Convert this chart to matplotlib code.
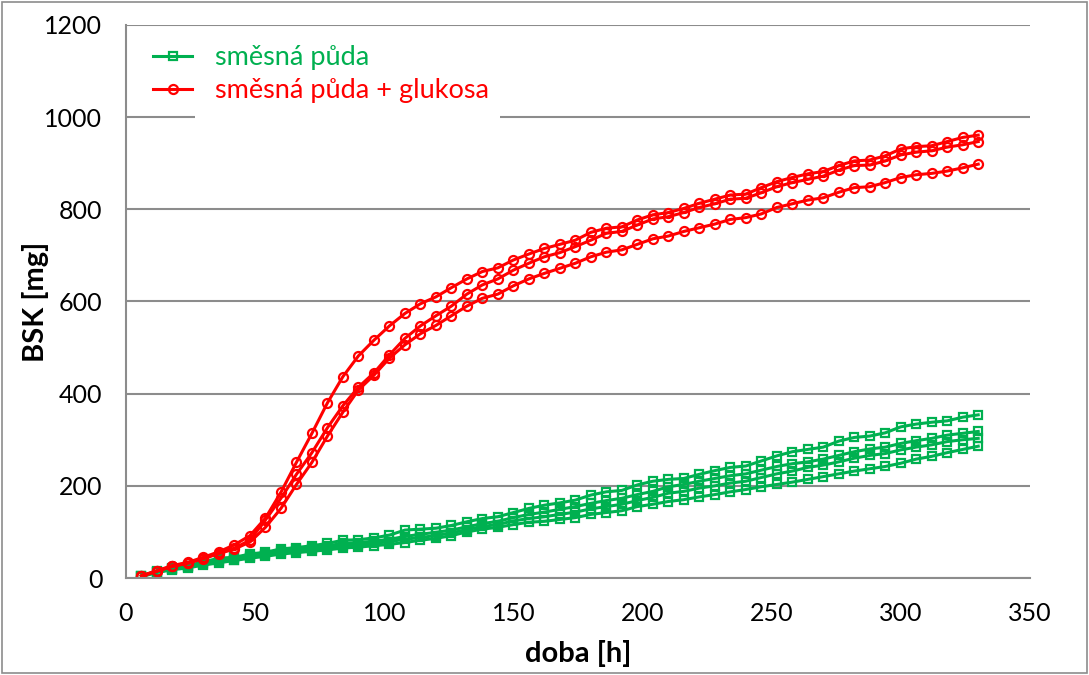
"""
BSK (biochemical oxygen demand) over time: mixed soil vs. mixed soil + glucose.
Excel-style line chart recreated with matplotlib. Output: out.png
"""
import numpy as np
import matplotlib

matplotlib.use("Agg")
import matplotlib.pyplot as plt  # noqa: E402
from matplotlib.patches import Rectangle  # noqa: E402

plt.rcParams["font.family"] = ["Lato", "DejaVu Sans"]

# time axis [h]: one reading every 6 hours
doba = list(range(6, 331, 6))

# --- směsná půda (4 replicates) ---
puda_1 = [5, 15, 22, 27, 35, 43, 45, 52, 56, 63,
          66, 70, 75, 82, 83, 87, 93, 104, 106, 108,
          114, 122, 129, 133, 142, 151, 158, 163, 169, 180,
          187, 190, 202, 210, 214, 216, 225, 233, 240, 243,
          254, 265, 274, 279, 284, 297, 305, 308, 315, 328,
          334, 338, 341, 349, 354]
puda_2 = [4, 14, 20, 25, 32, 39, 43, 48, 52, 58,
          62, 65, 70, 75, 77, 80, 84, 90, 95, 99,
          104, 111, 118, 123, 131, 138, 143, 149, 155, 162,
          168, 173, 181, 188, 198, 203, 210, 216, 222, 226,
          234, 242, 248, 252, 258, 266, 274, 280, 284, 292,
          298, 303, 310, 314, 318]
puda_3 = [4, 13, 19, 24, 30, 36, 40, 45, 50, 55,
          58, 62, 66, 70, 72, 75, 79, 84, 88, 92,
          98, 105, 112, 116, 124, 129, 133, 138, 143, 150,
          155, 160, 168, 175, 184, 188, 195, 200, 206, 210,
          218, 226, 232, 240, 245, 252, 260, 266, 270, 278,
          284, 289, 296, 300, 303]
puda_4 = [3, 12, 18, 22, 28, 33, 38, 43, 47, 52,
          55, 58, 61, 65, 67, 70, 73, 77, 82, 86,
          92, 100, 106, 110, 116, 121, 123, 127, 131, 138,
          142, 146, 155, 160, 166, 170, 176, 181, 187, 192,
          198, 203, 208, 214, 220, 226, 232, 237, 242, 249,
          258, 264, 272, 279, 286]

# --- směsná půda + glukosa (3 replicates) ---
glukosa_1 = [5, 16, 27, 34, 45, 57, 72, 92, 130, 186,
             251, 314, 380, 437, 482, 516, 547, 574, 595, 610,
             630, 649, 665, 673, 690, 703, 715, 724, 733, 750,
             759, 762, 777, 788, 793, 802, 813, 822, 831, 833,
             847, 860, 869, 877, 882, 895, 905, 907, 916, 931,
             936, 938, 947, 956, 961]
glukosa_2 = [4, 15, 26, 33, 43, 54, 65, 82, 126, 173,
             225, 272, 326, 374, 414, 445, 484, 520, 547, 569,
             590, 616, 636, 649, 668, 683, 697, 706, 719, 733,
             748, 752, 766, 779, 784, 793, 804, 812, 822, 824,
             836, 849, 858, 865, 872, 885, 895, 896, 905, 918,
             924, 927, 935, 940, 947]
glukosa_3 = [4, 15, 25, 32, 42, 53, 63, 78, 110, 151,
             203, 251, 308, 360, 408, 440, 477, 506, 530, 548,
             569, 590, 607, 616, 634, 649, 661, 672, 683, 697,
             707, 712, 724, 736, 742, 752, 760, 768, 778, 782,
             790, 804, 812, 820, 825, 837, 847, 849, 858, 869,
             875, 878, 883, 890, 898]

GREEN = "#00B050"
RED = "#FF0000"
GRID = "#8C8C8C"


def main():
    fig = plt.figure(figsize=(10.89, 6.75), dpi=100)
    ax = fig.add_axes([0.1157, 0.1437, 0.83, 0.8193])

    sq = dict(color=GREEN, lw=2.2, marker="s", ms=6.0, mew=1.6,
              mfc="none", mec=GREEN)
    ci = dict(color=RED, lw=2.2, marker="o", ms=6.5, mew=1.6,
              mfc="none", mec=RED)

    for i, s in enumerate([puda_1, puda_2, puda_3, puda_4]):
        ax.plot(doba, s, label="směsná půda" if i == 0 else None, **sq)
    for i, s in enumerate([glukosa_1, glukosa_2, glukosa_3]):
        ax.plot(doba, s, label="směsná půda + glukosa" if i == 0 else None, **ci)

    ax.set_xlim(0, 350)
    ax.set_ylim(0, 1200)
    ax.set_xticks(np.arange(0, 351, 50))
    ax.set_yticks(np.arange(0, 1201, 200))
    ax.yaxis.grid(True, color=GRID, lw=1.5)
    ax.set_axisbelow(True)
    for side in ["top", "right"]:
        ax.spines[side].set_visible(False)
    for side in ["left", "bottom"]:
        ax.spines[side].set_color(GRID)
        ax.spines[side].set_linewidth(1.5)
    ax.tick_params(axis="both", length=0, labelsize=18, colors="black")
    ax.tick_params(axis="x", pad=17)
    ax.tick_params(axis="y", pad=17)

    ax.set_xlabel("doba [h]", fontsize=21, fontweight="bold", labelpad=11)
    ax.set_ylabel("BSK [mg]", fontsize=21, fontweight="bold", labelpad=-3)

    # white legend area hides the 1000 gridline, as in the Excel original
    ax.add_patch(Rectangle((0.076, 0.82), 0.338, 0.17, transform=ax.transAxes,
                           facecolor="white", edgecolor="none", zorder=1.5))
    leg = ax.legend(loc="upper left", bbox_to_anchor=(0.006, 1.003),
                    fontsize=19.5, frameon=False,
                    handlelength=1.45, handletextpad=0.85, borderpad=0.3,
                    labelspacing=0.3)
    for txt, col in zip(leg.get_texts(), [GREEN, RED]):
        txt.set_color(col)

    # chart-area border, like the Excel chart frame
    fig.patches.append(Rectangle((0.002, 0.003), 0.996, 0.994,
                                 transform=fig.transFigure, fill=False,
                                 edgecolor="#8C8C8C", lw=1.2))

    fig.savefig("out.png", dpi=100)
    plt.close(fig)


if __name__ == "__main__":
    main()
